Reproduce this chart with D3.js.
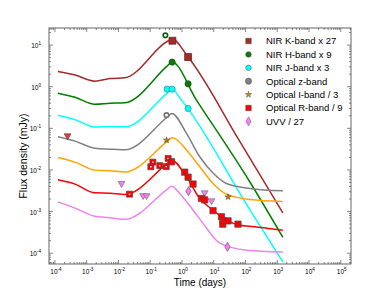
<!DOCTYPE html>
<html>
<head>
<meta charset="utf-8">
<script src="https://cdn.jsdelivr.net/npm/d3@7.9.0/dist/d3.min.js"></script>
<style>
  body { margin: 0; background: #fff; }
  svg { font-family: "Liberation Sans", Arial, sans-serif; }
</style>
</head>
<body>
<div id="chart"></div>
<script>
// model curves, [time (days), flux density (mJy)]
const modelK = [[1.24e-4, 2.31], [4.3e-4, 1.90], [1.8e-3, 1.36], [5.4e-3, 1.57], [0.0159, 1.64], [0.36, 12.5], [0.49, 13.9], [1.56, 5.15], [62.5, 0.052], [1500, 9.3e-4]];
const modelH = [[1.24e-4, 0.70], [4.3e-4, 0.56], [1.8e-3, 0.38], [5.4e-3, 0.40], [0.0159, 0.41], [0.36, 3.25], [0.48, 3.9], [2.86, 0.476], [136, 5.2e-3], [1500, 2.4e-4]];
const modelJ = [[1.24e-4, 0.207], [4.3e-4, 0.162], [1.8e-3, 0.107], [5.4e-3, 0.11], [0.0159, 0.109], [0.36, 0.73], [0.48, 0.875], [0.964, 0.476], [120, 1.3e-3], [1500, 6.2e-5]];
const modelZ = [[1.24e-4, 0.0625], [4.3e-4, 0.0492], [1.8e-3, 0.0334], [5.4e-3, 0.0316], [0.0159, 0.0304], [0.36, 0.192], [0.48, 0.228], [1.39, 0.0754], [3.63, 0.0207], [9.5, 8.4e-3], [25, 4.73e-3], [136, 3.59e-3], [1500, 3.15e-3]];
const modelI = [[1.24e-4, 0.020], [4.3e-4, 0.0154], [1.8e-3, 9.9e-3], [5.4e-3, 9.6e-3], [0.0159, 8.9e-3], [0.36, 0.050], [0.48, 0.059], [0.64, 0.055], [1.39, 0.030], [3.63, 0.0119], [9.5, 4.73e-3], [25, 2.62e-3], [136, 1.95e-3], [1500, 1.75e-3]];
const modelR = [[1.24e-4, 5.78e-3], [4.3e-4, 4.56e-3], [1.8e-3, 2.82e-3], [5.4e-3, 2.77e-3], [0.0159, 2.58e-3], [0.36, 0.0148], [0.47, 0.0172], [1.39, 6.8e-3], [3.63, 2.07e-3], [9.5, 1.08e-3], [25, 6.2e-4], [66, 4.7e-4], [136, 4.46e-4], [1500, 3.57e-4]];
const modelUVV = [[1.24e-4, 1.71e-3], [4.3e-4, 1.21e-3], [1.8e-3, 7.7e-4], [5.4e-3, 7.1e-4], [0.0159, 6.5e-4], [0.36, 3.53e-3], [0.47, 4.08e-3], [0.85, 2.72e-3], [2.23, 1.08e-3], [4.6, 5.2e-4], [15.5, 1.74e-4], [109, 1.18e-4], [1500, 1.07e-4]];

// observed points
const obsK = [[0.50, 12.7], [1.56, 5.15]];
const obsH = [[0.49, 3.9], [1.56, 1.17]];
const obsHopen = [[0.30, 17.1]];
const obsJ = [[0.34, 0.875], [0.49, 0.875], [1.56, 0.30]];
const obsZopen = [[0.326, 0.207]];
const obsI = [[0.326, 0.052], [28.2, 2.25e-3]];
const obsRopen = [[0.0223, 2.62e-3], [0.1045, 0.0119], [0.121, 0.0154], [0.20, 0.0127], [0.32, 0.0120], [0.366, 0.0189]];
const obsR = [[0.47, 0.0157], [1.22, 8.85e-3], [1.56, 6.7e-3], [2.23, 4.58e-3], [4.1, 2.07e-3], [5.2, 1.91e-3], [9.5, 1.05e-3], [17.5, 7.5e-4], [19.6, 6.0e-4], [19.2, 4.98e-4], [28.2, 5.97e-4], [58, 4.98e-4]];
const limitR = [[2.5e-4, 0.066]];
const obsUVV = [[1.6, 3.09e-3], [27, 1.42e-4]];
const limitUVV = [[0.0125, 4.73e-3], [0.060, 2.41e-3], [0.0766, 2.41e-3], [5.2, 2.83e-3], [8.5, 1.82e-3]];

// legend entries
const legendLabels = ["NIR K-band x 27", "NIR H-band x 9", "NIR J-band x 3", "Optical z-band", "Optical I-band / 3", "Optical R-band / 9", "UVV / 27"];
const legendColors = ["#a52a2a", "#0a7a0a", "#00ffff", "#808080", "#e08a00", "#ff0000", "#ee82ee"];

// axis ticks
const xTickExp = [-4, -3, -2, -1, 0, 1, 2, 3, 4, 5];
const yTickExp = [1, 0, -1, -2, -3, -4];

const width = 390;
const height = 294;
const margin = { top: 28, right: 39, bottom: 30, left: 49 };

const usableArea = {
    top: margin.top,
    right: width - margin.right,
    bottom: height - margin.bottom,
    left: margin.left
};

const svg = d3.select("#chart")
    .append("svg")
    .attr("width", width)
    .attr("height", height);

const xScale = d3.scaleLog()
    .domain([6.5e-5, 2.1e5])
    .range([usableArea.left, usableArea.right]);

const yScale = d3.scaleLog()
    .domain([25.7, 5.5e-5])
    .range([usableArea.top, usableArea.bottom]);

const axisColor = "#555";

// ticks on all four sides, pointing inward
const ticks = svg.append("g").attr("stroke", axisColor).attr("stroke-width", 0.7);
const xMinor = [];
for (let e = -5; e <= 5; e++) for (let m = 2; m <= 9; m++) {
    const v = m * Math.pow(10, e);
    if (v > xScale.domain()[0] && v < xScale.domain()[1]) xMinor.push(v);
}
const yMinor = [];
for (let e = -5; e <= 1; e++) for (let m = 2; m <= 9; m++) {
    const v = m * Math.pow(10, e);
    if (v < yScale.domain()[0] && v > yScale.domain()[1]) yMinor.push(v);
}
xTickExp.map(e => ({ v: Math.pow(10, e), len: 4 })).concat(xMinor.map(v => ({ v, len: 2 })))
    .forEach(d => {
        const x = xScale(d.v);
        ticks.append("line").attr("x1", x).attr("x2", x).attr("y1", usableArea.bottom).attr("y2", usableArea.bottom - d.len);
        ticks.append("line").attr("x1", x).attr("x2", x).attr("y1", usableArea.top).attr("y2", usableArea.top + d.len);
    });
yTickExp.map(e => ({ v: Math.pow(10, e), len: 4 })).concat(yMinor.map(v => ({ v, len: 2 })))
    .forEach(d => {
        const y = yScale(d.v);
        ticks.append("line").attr("y1", y).attr("y2", y).attr("x1", usableArea.left).attr("x2", usableArea.left + d.len);
        ticks.append("line").attr("y1", y).attr("y2", y).attr("x1", usableArea.right).attr("x2", usableArea.right - d.len);
    });

// frame
svg.append("rect")
    .attr("x", usableArea.left)
    .attr("y", usableArea.top)
    .attr("width", usableArea.right - usableArea.left)
    .attr("height", usableArea.bottom - usableArea.top)
    .attr("fill", "none")
    .attr("stroke", axisColor)
    .attr("stroke-width", 0.9);

// tick labels as 10^n
function powLabel(sel, e) {
    sel.append("tspan").text("10");
    sel.append("tspan").attr("dy", -3).attr("font-size", 4.6).text(e);
}
xTickExp.forEach(e => {
    svg.append("text")
        .attr("x", xScale(Math.pow(10, e)) + 1)
        .attr("y", usableArea.bottom + 10)
        .attr("text-anchor", "middle")
        .attr("font-size", 6.5)
        .call(powLabel, e);
});
yTickExp.forEach(e => {
    svg.append("text")
        .attr("x", usableArea.left - 8)
        .attr("y", yScale(Math.pow(10, e)) + 3)
        .attr("text-anchor", "end")
        .attr("font-size", 6.5)
        .call(powLabel, e);
});

// axis labels
svg.append("text")
    .attr("x", 200)
    .attr("y", 286)
    .attr("text-anchor", "middle")
    .attr("font-size", 10)
    .text("Time (days)");
svg.append("text")
    .attr("transform", `translate(27,156) rotate(-90)`)
    .attr("text-anchor", "middle")
    .attr("font-size", 10.5)
    .text("Flux density (mJy)");

// model lines
const line = d3.line()
    .x(d => xScale(d[0]))
    .y(d => yScale(d[1]))
    .curve(d3.curveMonotoneX);

const models = [modelK, modelH, modelJ, modelZ, modelI, modelR, modelUVV];
const lineColors = ["#a52a2a", "#008000", "#00ffff", "#808080", "#ffa500", "#ff0000", "#ee82ee"];
models.forEach((m, i) => {
    svg.append("path")
        .datum(m)
        .attr("fill", "none")
        .attr("stroke", lineColors[i])
        .attr("stroke-width", 1.5)
        .attr("d", line);
});

// markers
const edge = "#4a4a4a";
function drawPoints(data, type, size, fill, stroke, rotate = 0, sw = 0.7) {
    svg.append("g").selectAll("path")
        .data(data)
        .join("path")
        .attr("transform", d => `translate(${xScale(d[0])},${yScale(d[1])}) rotate(${rotate})`)
        .attr("d", d3.symbol(type, size))
        .attr("fill", fill)
        .attr("stroke", stroke)
        .attr("stroke-width", sw);
}

drawPoints(limitR, d3.symbolTriangle, 20, "#ff3030", edge, 180);
drawPoints(limitUVV, d3.symbolTriangle, 20, "#ee82ee", "#886688", 180);
drawPoints(obsRopen, d3.symbolSquare, 36, "#ff0000", edge);
drawPoints(obsRopen, d3.symbolSquare, 2, "#fff", "none");
drawPoints(obsR, d3.symbolSquare, 40, "#ff0000", edge);
drawPoints(obsUVV, d3.symbolDiamond, 24, "#ee82ee", "#8a4a8a");
drawPoints(obsI, d3.symbolStar, 12, "#d08000", "#333", 0, 0.5);
drawPoints(obsZopen, d3.symbolCircle, 16, "#fff", "#707070", 0, 1.6);
drawPoints(obsJ, d3.symbolCircle, 30, "#00ffff", "#3a8a8a");
drawPoints(obsHopen, d3.symbolCircle, 16, "#fff", "#0a5a0a", 0, 1.6);
drawPoints(obsH, d3.symbolCircle, 30, "#0a7a0a", "#0a4a0a");
drawPoints(obsK, d3.symbolSquare, 48, "#a52a2a", "#5a1a1a");

// legend
const legendSymbols = [d3.symbolSquare, d3.symbolCircle, d3.symbolCircle, d3.symbolCircle, d3.symbolStar, d3.symbolSquare, d3.symbolDiamond];
const legendSizes = [30, 24, 24, 30, 12, 30, 24];
const legend = svg.append("g");
legendLabels.forEach((label, i) => {
    const y = 41 + i * 13.4;
    legend.append("path")
        .attr("transform", `translate(248.5,${y})`)
        .attr("d", d3.symbol(legendSymbols[i], legendSizes[i]))
        .attr("fill", legendColors[i])
        .attr("stroke", i === 6 ? "#8a4a8a" : "#444")
        .attr("stroke-width", 0.5);
    legend.append("text")
        .attr("x", 266)
        .attr("y", y + 3.4)
        .attr("font-size", 9.5)
        .text(label);
});
</script>
</body>
</html>
